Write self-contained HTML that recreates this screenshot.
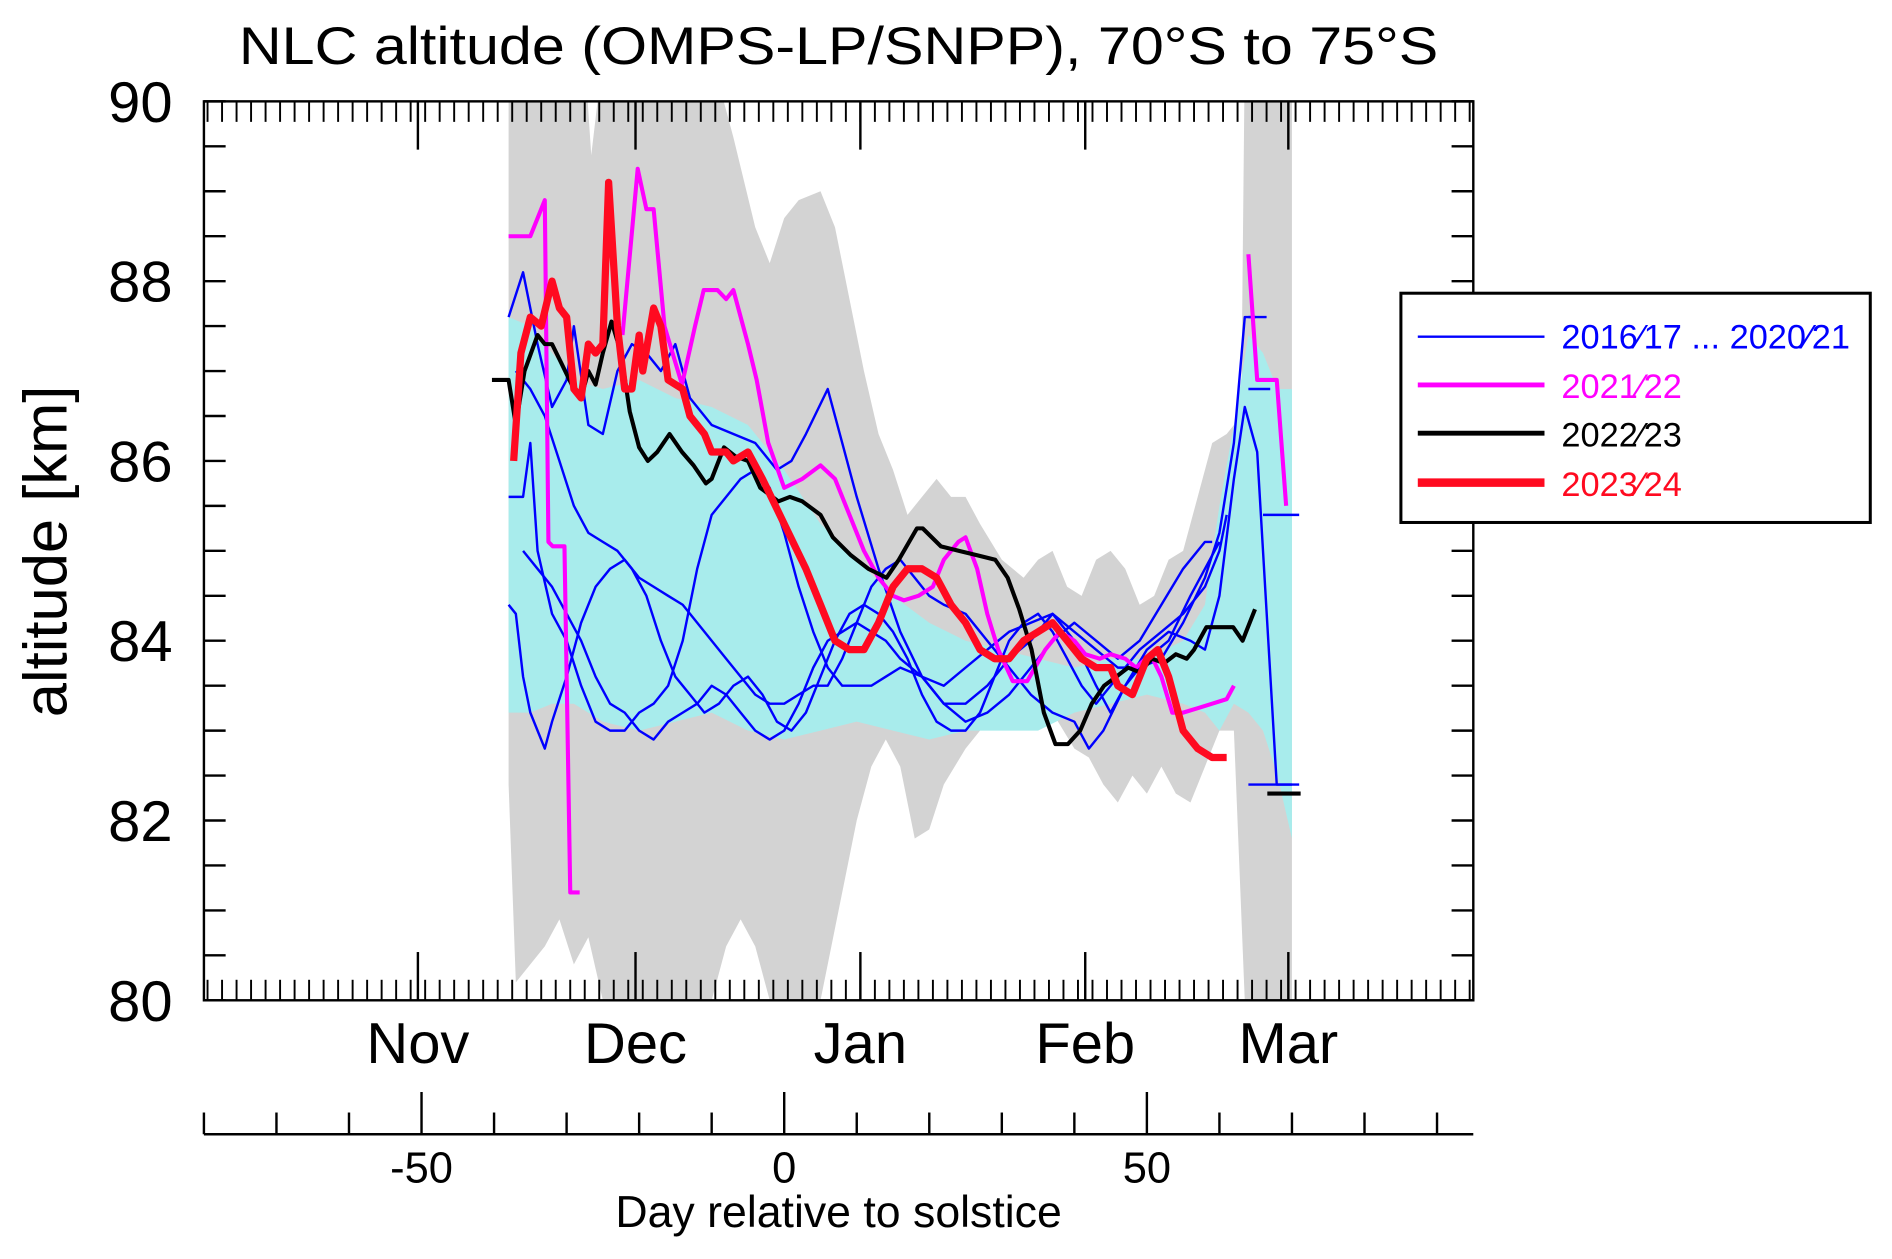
<!DOCTYPE html>
<html><head><meta charset="utf-8"><style>
html,body{margin:0;padding:0;background:#fff;}
svg{display:block;font-family:"Liberation Sans",Arial,sans-serif;}
</style></head><body>
<svg id="chart" width="1892" height="1259" viewBox="0 0 1568 1043.4" preserveAspectRatio="none" xmlns="http://www.w3.org/2000/svg">
<defs><clipPath id="plotclip"><rect x="169" y="84" width="1052" height="745"/></clipPath></defs>
<text x="695" y="53" font-size="44" text-anchor="middle" textLength="994" lengthAdjust="spacingAndGlyphs">NLC altitude (OMPS-LP/SNPP), 70°S to 75°S</text>
<g id="bands" clip-path="url(#plotclip)"></g>
<g id="series" clip-path="url(#plotclip)"></g>
<rect x="169" y="84" width="1052" height="745" fill="none" stroke="#000" stroke-width="2"/>
<g id="axes"></g>
<text transform="translate(55,457) rotate(-90)" font-size="51" text-anchor="middle">altitude [km]</text>
<text x="695" y="1017" font-size="37" text-anchor="middle">Day relative to solstice</text>
<g>
<rect x="1161" y="243" width="389" height="190" fill="#fff" stroke="#000" stroke-width="2.5"/>
<line x1="1175" y1="279" x2="1280" y2="279" stroke="#0000ff" stroke-width="2"/>
<text x="1294" y="289" font-size="28.5" fill="#0000ff">2016⁄17 ... 2020⁄21</text>
<line x1="1175" y1="319" x2="1280" y2="319" stroke="#ff00ff" stroke-width="4"/>
<text x="1294" y="330" font-size="28.5" fill="#ff00ff">2021⁄22</text>
<line x1="1175" y1="359" x2="1280" y2="359" stroke="#000" stroke-width="4"/>
<text x="1294" y="370" font-size="28.5" fill="#000">2022⁄23</text>
<line x1="1175" y1="400" x2="1280" y2="400" stroke="#ff0a20" stroke-width="7"/>
<text x="1294" y="411" font-size="28.5" fill="#ff0a20">2023⁄24</text>
</g>
</svg>
<script>
const grayUpperDays=[-38,-27.5,-26.6,-25,-10,-7,-4,-2,0,2,5,7,9,11,13,15,17,19,21,23,25,27,30,33,35,37,39,41,43,45,47,49,51,53,55,57,59,61,63,63.5,70];
const grayUpper=[90.5,90.5,89.4,90.5,90.5,89.6,88.6,88.2,88.7,88.9,89.0,88.6,87.8,87.0,86.3,85.9,85.4,85.6,85.8,85.6,85.6,85.3,84.9,84.7,84.9,85.0,84.6,84.5,84.9,85.0,84.8,84.4,84.5,84.9,85.0,85.6,86.2,86.3,86.5,90.5,90.5];
const grayLowerDays=[-38,-37,-35,-33,-31,-29,-27,-25,-10,-8,-6,-4,-2,5,8,10,12,14,16,18,20,22,25,28,31,34,37,40,42,44,46,48,50,52,54,56,58,60,62,63.5,70];
const grayLower=[82.4,80.2,80.4,80.6,80.9,80.4,80.7,80.0,80.0,80.6,80.9,80.6,80.0,80.0,81.2,82.0,82.6,82.9,82.6,81.8,81.9,82.4,82.8,83.1,83.2,83.3,83.2,82.8,82.7,82.4,82.2,82.5,82.3,82.6,82.3,82.2,82.6,83.0,83.0,80.0,80.0];
const cyanDays=[-38,-35,-32,-29,-25,-20,-15,-10,-5,0,5,10,15,20,25,30,35,40,45,50,55,58,60,62,64,66,68,70];
const cyanUpper=[87.6,87.5,87.2,86.9,86.8,86.9,86.7,86.6,86.4,85.9,85.3,84.9,84.5,84.2,84.0,83.9,83.8,83.7,83.8,83.8,84.0,84.4,85.5,86.4,87.4,87.2,86.8,86.8];
const cyanLower=[83.2,83.2,83.3,83.3,83.1,83.0,83.1,83.2,83.0,82.9,83.0,83.1,83.0,82.9,83.0,83.0,83.0,83.2,83.3,83.4,83.3,83.2,83.0,83.3,83.2,83.0,82.5,81.8];

const blue1Days=[-38,-36,-34,-32,-30,-29,-27,-25,-23,-21,-19,-17,-15,-13,-10,-7,-4,-1,1,3,6,8,10,13,16,19,22,25,28,31,34,37,40,43,46,49,52,55,58,59];
const blue1Alt=[87.6,88.1,87.3,86.6,86.9,87.5,86.4,86.3,87.0,87.3,87.2,87.0,87.3,86.7,86.4,86.3,86.2,85.9,86.0,86.3,86.8,86.2,85.6,84.8,84.1,83.6,83.3,83.1,83.2,83.4,83.7,84.0,84.2,84.0,83.8,84.0,84.4,84.8,85.1,85.1];
const blue2Days=[-38,-36,-35,-34,-32,-30,-28,-26,-24,-22,-20,-18,-16,-14,-12,-10,-8,-6,-4,-2,0,2,4,6,8,10,12,14,16,19,22,25,28,31,34,37,40,43,45,47,50,53,56,58,60];
const blue2Alt=[85.6,85.6,86.2,85.0,84.3,84.0,83.5,83.1,83.0,83.0,83.2,83.3,83.5,84.0,84.8,85.4,85.6,85.8,85.9,85.7,85.2,84.6,84.1,83.7,83.5,83.5,83.5,83.6,83.7,83.6,83.3,83.3,83.5,83.8,84.0,84.3,84.0,83.5,83.2,83.5,83.8,84.0,84.5,84.8,85.1];
const blue3Days=[-36,-34,-32,-30,-28,-26,-24,-22,-20,-18,-16,-14,-12,-10,-8,-6,-4,-2,0,2,4,6,8,10,12,14,16,19,22,25,28,31,34,37,40,43,46,49,52,55,58,60,62,63.5,65];
const blue3Alt=[85.0,84.8,84.6,84.3,84.0,83.6,83.3,83.2,83.0,82.9,83.1,83.2,83.3,83.5,83.4,83.2,83.0,82.9,83.0,83.3,83.7,84.0,84.1,84.2,84.1,84.0,83.8,83.6,83.5,83.7,83.9,84.1,84.2,84.3,84.1,83.9,83.7,83.7,83.8,84.2,84.7,85.2,86.2,87.6,87.6];
const blue4Days=[-38,-37,-36,-35,-34,-33,-32,-30,-28,-26,-24,-22,-20,-18,-16,-14,-12,-10,-8,-6,-4,-2,0,2,4,6,8,10,12,14,16,18,20,22,25,28,31,34,37,40,42,44,47,50,53,56,58,60,62,63.5,65.2,67.9,70];
const blue4Alt=[84.4,84.3,83.6,83.2,83.0,82.8,83.1,83.6,84.2,84.6,84.8,84.9,84.7,84.6,84.5,84.4,84.2,84.0,83.8,83.6,83.4,83.3,83.3,83.4,83.5,83.5,83.8,84.2,84.6,84.8,84.9,84.7,84.5,84.4,84.3,84.0,83.7,83.4,83.2,83.1,82.8,83.0,83.5,83.9,84.1,84.0,83.9,84.5,85.8,86.6,86.1,82.4,82.4];
const blue5Days=[-37,-35,-33,-31,-29,-27,-25,-23,-21,-19,-17,-15,-13,-11,-9,-7,-5,-3,-1,1,3,5,7,9,11,13,15,17,19,21,23,25,27,29,31,33,35,37,39,41,43,45,47,49,52,55,58,60,61];
const blue5Alt=[87.0,86.8,86.5,86.0,85.5,85.2,85.1,85.0,84.8,84.5,84.0,83.6,83.4,83.2,83.3,83.5,83.6,83.4,83.1,83.0,83.2,83.6,84.0,84.3,84.4,84.3,84.1,83.8,83.4,83.1,83.0,83.0,83.2,83.6,84.0,84.2,84.3,84.1,83.8,83.5,83.3,83.5,83.7,83.9,84.1,84.3,84.6,85.0,85.4];
const blueMarkDays=[[64,66.5],[64,71],[66,71],[64,67]];
const blueMarkAlt=[87.6,82.4,85.4,86.8];

const mag1Days=[-38,-35,-33,-32.5,-31.9,-30.3,-29.5,-28.2];
const mag1Alt=[88.5,88.5,88.9,85.1,85.05,85.05,81.2,81.2];
const mag2Days=[-22.3,-20.2,-19,-18,-16.5,-14.1,-12.3,-11.1,-9.2,-8,-7,-5,-3.8,-2.2,0,2.5,5,7,9,11,13,15,16.5,18.5,20.5,22,24,25,26.6,28,29.5,31.5,33.5,36,38,40,41.5,43.5,45,47,48.5,50.5,52,53.5,55,57,59,61,62];
const mag2Alt=[87.4,89.25,88.8,88.8,87.5,86.85,87.5,87.9,87.9,87.8,87.9,87.3,86.9,86.2,85.7,85.8,85.95,85.8,85.4,85.0,84.7,84.5,84.45,84.5,84.6,84.9,85.1,85.15,84.8,84.3,83.9,83.55,83.55,83.9,84.1,84.0,83.85,83.8,83.85,83.8,83.7,83.85,83.6,83.2,83.2,83.25,83.3,83.35,83.5];
const mag3Days=[64,65.2,67.9,69.2];
const mag3Alt=[88.3,86.9,86.9,85.5];

const blackDays=[-40.3,-38,-37,-35.8,-34,-33,-32,-30.8,-29,-28,-27,-26,-25,-23.8,-22.5,-21.3,-20,-18.8,-17.5,-15.8,-14.1,-12.5,-10.8,-10,-8.3,-6.7,-5,-3.3,-0.8,0.8,2.5,5,6.7,9.2,11.6,14.1,15.8,18.3,19.1,21.6,24.1,26.6,29.1,30.8,32.4,34.1,35.8,37.4,39.1,40.8,42.4,44.1,45.8,47.4,49,50.7,52.4,54,55.5,56.5,58.2,59.5,61.9,63.2,64.9];
const blackAlt=[86.9,86.9,86.4,87.0,87.4,87.3,87.3,87.1,86.8,86.7,87.0,86.85,87.2,87.55,87.2,86.55,86.15,86.0,86.1,86.3,86.1,85.95,85.75,85.8,86.15,86.05,86.0,85.7,85.55,85.6,85.55,85.4,85.15,84.95,84.8,84.7,84.9,85.25,85.25,85.05,85.0,84.95,84.9,84.7,84.35,83.9,83.2,82.85,82.85,83.0,83.3,83.5,83.6,83.7,83.65,83.8,83.75,83.85,83.8,83.9,84.15,84.15,84.15,84.0,84.35];
const black2Days=[66.6,71.2];
const black2Alt=[82.3,82.3];

const redDays=[-37.3,-36.3,-35,-33.5,-32,-31,-30,-29,-28,-27,-26,-25,-24.2,-23,-22,-21,-20,-19.5,-18,-17,-16,-14,-13,-11,-10,-8,-7,-5,-3,0,3,5,7,9,11,13,15,17,19,21,23,25,27,29,31,33,35,37,39,41,43,45,46,48,50,51.5,53,55,57,59,61];
const redAlt=[86.0,87.2,87.6,87.5,88.0,87.7,87.6,86.8,86.7,87.3,87.2,87.3,89.1,87.5,86.8,86.8,87.4,87.0,87.7,87.5,86.9,86.8,86.5,86.3,86.1,86.1,86.0,86.1,85.8,85.3,84.8,84.4,84.0,83.9,83.9,84.2,84.6,84.8,84.8,84.7,84.4,84.2,83.9,83.8,83.8,84.0,84.1,84.2,84.0,83.8,83.7,83.7,83.5,83.4,83.8,83.9,83.6,83.0,82.8,82.7,82.7];

const yTickLabels=[80,82,84,86,88,90];
const dayTickLabels=[-50,0,50];
const monthNames=['Nov','Dec','Jan','Feb','Mar'];
const monthDays=[-50.5,-20.5,10.5,41.5,69.5];

const NS='http://www.w3.org/2000/svg';
const X0=169,X1=1221,Y0=84,Y1=829,D0=-80,D1=95,A0=80,A1=90;
function xs(d){return X0+(d-D0)/(D1-D0)*(X1-X0);}
function ys(a){return Y1-(a-A0)/(A1-A0)*(Y1-Y0);}
function mk(tag,attrs,parent){const e=document.createElementNS(NS,tag);for(const k in attrs)e.setAttribute(k,attrs[k]);parent.appendChild(e);return e;}
const bands=document.getElementById('bands'),series=document.getElementById('series'),axes=document.getElementById('axes');

function bandPath(dU,u,dL,l){let p='M'+dU.map((d,i)=>xs(d).toFixed(1)+','+ys(u[i]).toFixed(1)).join('L');
 for(let i=dL.length-1;i>=0;i--)p+='L'+xs(dL[i]).toFixed(1)+','+ys(l[i]).toFixed(1);return p+'Z';}
let g=mk('path',{d:bandPath(grayUpperDays,grayUpper,grayLowerDays,grayLower),fill:'#d3d3d3'},bands);


let c=mk('path',{d:bandPath(cyanDays,cyanUpper,cyanDays,cyanLower),fill:'#a8ecec'},bands);



function line(days,alts,color,w,name){const pts=days.map((d,i)=>xs(d).toFixed(1)+','+ys(alts[i]).toFixed(1)).join(' ');
 const e=mk('polyline',{points:pts,fill:'none',stroke:color,'stroke-width':w,'stroke-linejoin':'round'},series);
 
 return e;}
line(blue1Days,blue1Alt,'#0000ff',2,'series-blue-1');
line(blue2Days,blue2Alt,'#0000ff',2,'series-blue-2');
line(blue3Days,blue3Alt,'#0000ff',2,'series-blue-3');
line(blue4Days,blue4Alt,'#0000ff',2,'series-blue-4');
line(blue5Days,blue5Alt,'#0000ff',2,'series-blue-5');
blueMarkDays.forEach((dd,i)=>{line(dd,[blueMarkAlt[i],blueMarkAlt[i]],'#0000ff',2,'series-blue-mark');});
line(mag1Days,mag1Alt,'#ff00ff',3.4,'series-2021-22-a');
line(mag2Days,mag2Alt,'#ff00ff',3.4,'series-2021-22-b');
line(mag3Days,mag3Alt,'#ff00ff',3.4,'series-2021-22-c');
line(blackDays,blackAlt,'#000000',3.4,'series-2022-23');
line(black2Days,black2Alt,'#000000',3.4,'series-2022-23-end');
line(redDays,redAlt,'#ff0a20',6,'series-2023-24');

for(let a=80;a<=90.001;a+=0.5){const y=ys(a);
 let t=mk('line',{x1:X0,y1:y,x2:X0+18,y2:y,stroke:'#000','stroke-width':2},axes);
 
 
 t=mk('line',{x1:X1-18,y1:y,x2:X1,y2:y,stroke:'#000','stroke-width':2},axes);
 
 }
yTickLabels.forEach(a=>{const t=mk('text',{x:143,y:ys(a)+17,'font-size':48,'text-anchor':'end'},axes);t.textContent=a;
 
 });
for(let d=-79.5;d<95;d+=2){const x=xs(d);
 let t=mk('line',{x1:x,y1:Y0,x2:x,y2:Y0+17,stroke:'#000','stroke-width':1.6},axes);
 
 
 t=mk('line',{x1:x,y1:Y1-17,x2:x,y2:Y1,stroke:'#000','stroke-width':1.6},axes);
 
 }
monthDays.forEach((d,i)=>{const x=xs(d);
 let t=mk('line',{x1:x,y1:Y0,x2:x,y2:Y0+40,stroke:'#000','stroke-width':2},axes);
 
 
 t=mk('line',{x1:x,y1:Y1-40,x2:x,y2:Y1,stroke:'#000','stroke-width':2},axes);
 
 
 const l=mk('text',{x:x,y:881,'font-size':48,'text-anchor':'middle'},axes);l.textContent=monthNames[i];
 
 });
let ax=mk('line',{x1:X0,y1:940,x2:X1,y2:940,stroke:'#000','stroke-width':2},axes);


for(let d=-80;d<=90;d+=10){const x=xs(d);const major=dayTickLabels.includes(d);
 const t=mk('line',{x1:x,y1:940,x2:x,y2:major?905:922,stroke:'#000','stroke-width':2},axes);
 
 }
dayTickLabels.forEach(d=>{const t=mk('text',{x:xs(d),y:980,'font-size':36,'text-anchor':'middle'},axes);t.textContent=d;
 
 });
</script>
</body></html>
